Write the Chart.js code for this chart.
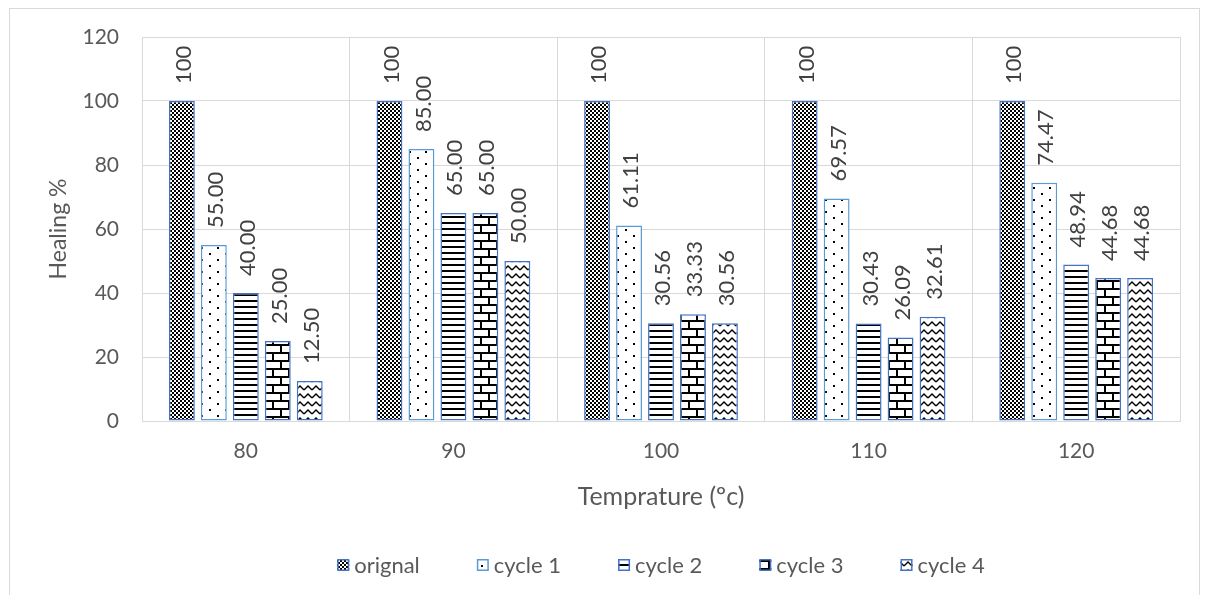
<!DOCTYPE html>
<html>
<head>
<meta charset="utf-8">
<script src="https://cdn.jsdelivr.net/npm/chart.js@4/dist/chart.umd.min.js"></script>
<style>
  html, body { margin: 0; padding: 0; background: #ffffff; }
  #wrap { position: relative; width: 1208px; height: 595px; overflow: hidden; background: #ffffff; }
  #frame { position: absolute; left: 9px; top: 8px; width: 1191px; height: 700px; border: 1px solid #d9d9d9; box-sizing: border-box; }
  #c { position: absolute; left: 0; top: 0; }
</style>
</head>
<body>
<div id="wrap">
  <div id="frame"></div>
  <canvas id="c" width="1208" height="595"></canvas>
</div>
<script>
// Healing percentage after repeated healing cycles at each temperature
const temperatures = ['80', '90', '100', '110', '120'];
const seriesNames = ['orignal', 'cycle 1', 'cycle 2', 'cycle 3', 'cycle 4'];
const orignal = [100, 100, 100, 100, 100];
const cycle1 = [55.00, 85.00, 61.11, 69.57, 74.47];
const cycle2 = [40.00, 65.00, 30.56, 30.43, 48.94];
const cycle3 = [25.00, 65.00, 33.33, 26.09, 44.68];
const cycle4 = [12.50, 50.00, 30.56, 32.61, 44.68];
const yTickMin = 0;
const yTickMax = 120;
const yTickStep = 20;
const xTitle = 'Temprature (ºc)';
const yTitle = 'Healing %';

const FONT = 'Lato';
const TEXT = '#595959';
const LABEL = '#404040';
const GRID = '#d9d9d9';

// Fill patterns for the bars
function makePattern(w, h, paint) {
  const tile = document.createElement('canvas');
  tile.width = w; tile.height = h;
  const g = tile.getContext('2d');
  g.fillStyle = '#ffffff';
  g.fillRect(0, 0, w, h);
  g.fillStyle = '#000000';
  g.strokeStyle = '#000000';
  paint(g);
  return document.createElement('canvas').getContext('2d').createPattern(tile, 'repeat');
}
const checker = makePattern(4, 4, g => { g.fillRect(0, 0, 2, 2); g.fillRect(2, 2, 2, 2); });
const dots = makePattern(16, 12, g => { g.fillRect(1, 1, 2, 2); g.fillRect(9, 7, 2, 2); });
const hLines = makePattern(4, 6, g => { g.fillRect(0, 0, 4, 2); });
const bricks = makePattern(16, 16, g => {
  g.fillRect(0, 0, 16, 2); g.fillRect(0, 8, 16, 2);
  g.fillRect(0, 0, 2, 8); g.fillRect(8, 8, 2, 8);
});
const zigzag = makePattern(8, 8, g => {
  g.lineWidth = 1.4;
  g.beginPath(); g.moveTo(0, 6); g.lineTo(4, 2); g.lineTo(8, 6); g.stroke();
});

const seriesData = [orignal, cycle1, cycle2, cycle3, cycle4];
const fills = [checker, dots, hLines, bricks, zigzag];
const borders = ['#4472c4', '#5b9bd5', '#4472c4', '#4472c4', '#4472c4'];

// Rotated value labels above each bar
const valueLabels = {
  id: 'valueLabels',
  afterDatasetsDraw(chart) {
    const ctx = chart.ctx;
    ctx.save();
    ctx.font = '22px ' + FONT;
    ctx.fillStyle = LABEL;
    ctx.textAlign = 'left';
    ctx.textBaseline = 'middle';
    chart.data.datasets.forEach((ds, i) => {
      chart.getDatasetMeta(i).data.forEach((bar, j) => {
        const v = ds.data[j];
        const txt = i === 0 ? String(v) : v.toFixed(2);
        ctx.save();
        ctx.translate(bar.x + 2, bar.y - 17);
        ctx.rotate(-Math.PI / 2);
        ctx.fillText(txt, 0, 0);
        ctx.restore();
      });
    });
    ctx.restore();
  }
};

// Legend row beneath the axis title, centred on the plot area
const legendRow = {
  id: 'legendRow',
  afterDraw(chart) {
    const ctx = chart.ctx;
    const area = chart.chartArea;
    const box = 12, gapText = 5, gapItem = 57;
    ctx.save();
    ctx.font = '22px ' + FONT;
    const widths = chart.data.datasets.map(ds => box + gapText + ctx.measureText(ds.label).width);
    const total = widths.reduce((a, b) => a + b, 0) + gapItem * (widths.length - 1);
    let x = (area.left + area.right) / 2 - total / 2;
    const y = area.bottom + 144;
    chart.data.datasets.forEach((ds, i) => {
      ctx.fillStyle = ds.backgroundColor;
      ctx.fillRect(x, y - box / 2, box, box);
      ctx.strokeStyle = ds.borderColor;
      ctx.lineWidth = 1.5;
      ctx.strokeRect(x + 0.75, y - box / 2 + 0.75, box - 1.5, box - 1.5);
      ctx.fillStyle = TEXT;
      ctx.textAlign = 'left';
      ctx.textBaseline = 'middle';
      ctx.fillText(ds.label, x + box + gapText, y + 1);
      x += widths[i] + gapItem;
    });
    ctx.restore();
  }
};

Chart.defaults.font.family = FONT;
Chart.defaults.font.size = 21;
Chart.defaults.color = TEXT;

new Chart(document.getElementById('c'), {
  type: 'bar',
  data: {
    labels: temperatures,
    datasets: seriesNames.map((name, i) => ({
      label: name,
      data: seriesData[i],
      backgroundColor: fills[i],
      borderColor: borders[i],
      borderWidth: 1.5,
      borderSkipped: false,
      categoryPercentage: 0.77,
      barPercentage: 0.81
    }))
  },
  options: {
    responsive: false,
    animation: false,
    events: [],
    layout: { padding: { top: 37, right: 28, left: 0, bottom: 74 } },
    plugins: {
      legend: { display: false },
      tooltip: { enabled: false }
    },
    scales: {
      x: {
        grid: { color: GRID, lineWidth: 1, drawTicks: false, offset: true },
        border: { color: GRID, width: 1 },
        ticks: { color: TEXT, padding: 18, font: { size: 21 } },
        title: { display: true, text: xTitle, color: TEXT, font: { size: 25 }, padding: { top: 10, bottom: 9 } },
        afterFit(scale) { scale.height = 100; }
      },
      y: {
        min: yTickMin,
        max: yTickMax,
        grid: { color: GRID, lineWidth: 1, drawTicks: false },
        border: { display: false },
        ticks: { stepSize: yTickStep, color: TEXT, padding: 23, font: { size: 21 } },
        title: { display: true, text: yTitle, color: TEXT, font: { size: 23 }, padding: { top: 45, bottom: 0 } },
        afterFit(scale) { scale.width = 142; }
      }
    }
  },
  plugins: [valueLabels, legendRow]
});
</script>
</body>
</html>
